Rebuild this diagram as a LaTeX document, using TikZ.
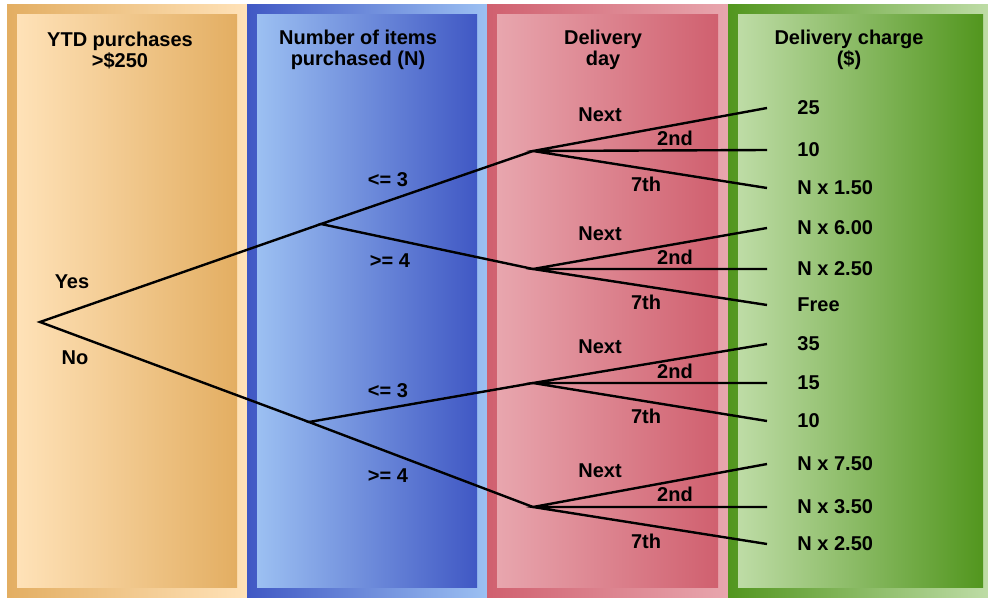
\documentclass[tikz,border=0pt]{standalone}
\usepackage{fontspec}
\setmainfont{Liberation Sans}
\usetikzlibrary{positioning}

\definecolor{ytdLight}{RGB}{255,226,184}
\definecolor{ytdDark}{RGB}{227,174,98}
\definecolor{numLight}{RGB}{156,192,242}
\definecolor{numDark}{RGB}{64,88,196}
\definecolor{dayLight}{RGB}{232,166,174}
\definecolor{dayDark}{RGB}{208,96,111}
\definecolor{chgLight}{RGB}{190,220,166}
\definecolor{chgDark}{RGB}{82,150,30}

\begin{document}
\begin{tikzpicture}[
    x=0.5pt, y=-0.5pt,
    framebox/.style 2 args = {left color=#2, right color=#1},
    panelbox/.style 2 args = {left color=#1, right color=#2},
    headtext/.style = {
        font=\fontsize{10}{10.5}\selectfont\bfseries,
        align=center,
        inner sep=0pt
    },
    lbltext/.style = {font=\bfseries, inner sep=0pt},
    leaftext/.style = {font=\bfseries, inner sep=0pt, right=15pt of #1},
    branch/.style = {line width=1.2pt, black}
]
\useasboundingbox[fill=white] (0,0) rectangle (988,599);

% --- Colonnes (cadre + panneau) ---
\shade[framebox={ytdLight}{ytdDark}] (7,5) rectangle (247,597);
\shade[panelbox={ytdLight}{ytdDark}] (17,15) rectangle (237,587);
\shade[framebox={numLight}{numDark}] (247,5) rectangle (487,597);
\shade[panelbox={numLight}{numDark}] (257,15) rectangle (477,587);
\shade[framebox={dayLight}{dayDark}] (487,5) rectangle (728,597);
\shade[panelbox={dayLight}{dayDark}] (497,15) rectangle (718,587);
\shade[framebox={chgLight}{chgDark}] (728,5) rectangle (988,597);
\shade[panelbox={chgLight}{chgDark}] (738,15) rectangle (983,587);

% --- En-tetes ---
\node[headtext] (hYtd) at (120,50) {YTD purchases\\>\$250};
\node[headtext] (hNum) at (358,50) {Number of items\\purchased (N)};
\node[headtext] (hDay) at (603,50) {Delivery\\day};
\node[headtext] (hChg) at (849,50) {Delivery charge\\(\$)};

% --- Noeuds de l'arbre ---
\coordinate (root) at (40,322);
\coordinate (yes) at (321,224);
\coordinate (no) at (309,422);
\coordinate (dayA) at (533,151);
\coordinate (dayB) at (533,269);
\coordinate (dayC) at (533,383);
\coordinate (dayD) at (533,507);

\coordinate (leafA1) at (767,108);
\coordinate (leafA2) at (767,150);
\coordinate (leafA3) at (767,188);
\coordinate (leafB1) at (767,228);
\coordinate (leafB2) at (767,269);
\coordinate (leafB3) at (767,305);
\coordinate (leafC1) at (767,344);
\coordinate (leafC2) at (767,383);
\coordinate (leafC3) at (767,421);
\coordinate (leafD1) at (767,464);
\coordinate (leafD2) at (767,507);
\coordinate (leafD3) at (767,544);

% --- Branches ---
\draw[branch] (yes) -- (root) -- (no);
\draw[branch] (dayA) -- (yes) -- (dayB);
\draw[branch] (dayC) -- (no) -- (dayD);
\draw[branch] (leafA1) -- (dayA) -- (leafA3) (dayA) -- (leafA2);
\draw[branch] (leafB1) -- (dayB) -- (leafB3) (dayB) -- (leafB2);
\draw[branch] (leafC1) -- (dayC) -- (leafC3) (dayC) -- (leafC2);
\draw[branch] (leafD1) -- (dayD) -- (leafD3) (dayD) -- (leafD2);

% --- Etiquettes des branches ---
\node[lbltext] (lYes) at (72,282) {Yes};
\node[lbltext] (lNo) at (75,358) {No};
\node[lbltext] (lLeA) at (388,180) {<= 3};
\node[lbltext] (lGeA) at (390,261) {>= 4};
\node[lbltext] (lLeB) at (388,391) {<= 3};
\node[lbltext] (lGeB) at (388,476) {>= 4};

\node[lbltext] (nextA) at (600,115) {Next};
\node[lbltext] (secA) at (675,138) {2nd};
\node[lbltext] (sevA) at (646,184) {7th};
\node[lbltext] (nextB) at (600,234) {Next};
\node[lbltext] (secB) at (675,257) {2nd};
\node[lbltext] (sevB) at (646,302) {7th};
\node[lbltext] (nextC) at (600,347) {Next};
\node[lbltext] (secC) at (675,371) {2nd};
\node[lbltext] (sevC) at (646,416) {7th};
\node[lbltext] (nextD) at (600,471) {Next};
\node[lbltext] (secD) at (675,494) {2nd};
\node[lbltext] (sevD) at (646,541) {7th};

% --- Frais de livraison ---
\node[leaftext=leafA1] (cA1) {25};
\node[leaftext=leafA2] (cA2) {10};
\node[leaftext=leafA3] (cA3) {N x 1.50};
\node[leaftext=leafB1] (cB1) {N x 6.00};
\node[leaftext=leafB2] (cB2) {N x 2.50};
\node[leaftext=leafB3] (cB3) {Free};
\node[leaftext=leafC1] (cC1) {35};
\node[leaftext=leafC2] (cC2) {15};
\node[leaftext=leafC3] (cC3) {10};
\node[leaftext=leafD1] (cD1) {N x 7.50};
\node[leaftext=leafD2] (cD2) {N x 3.50};
\node[leaftext=leafD3] (cD3) {N x 2.50};

\end{tikzpicture}
\end{document}
